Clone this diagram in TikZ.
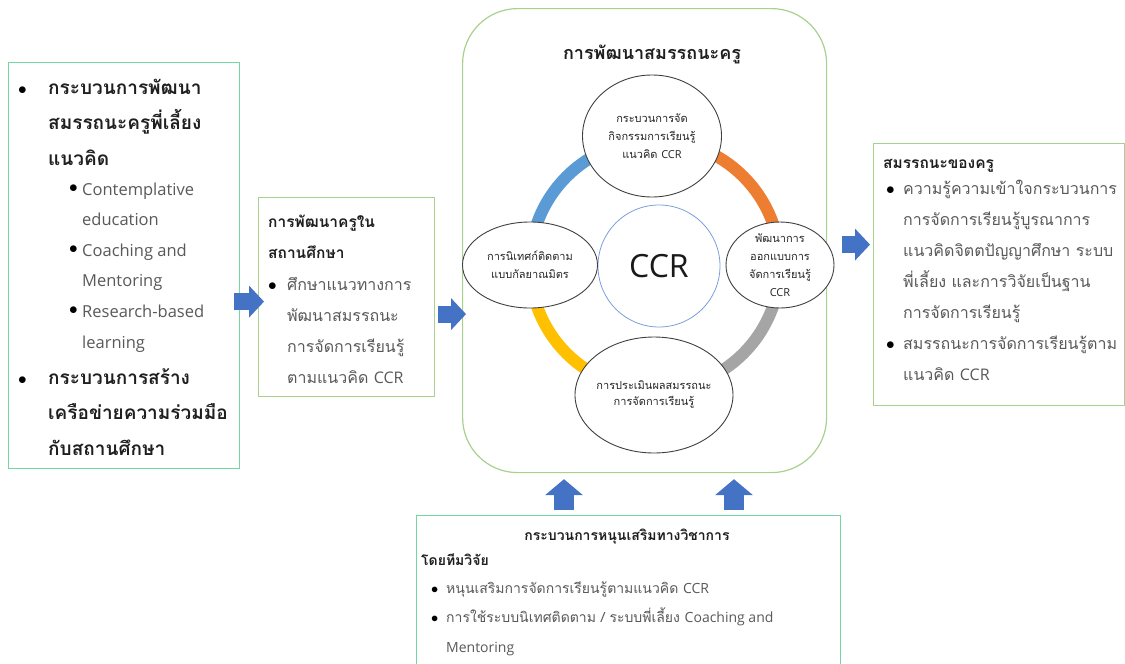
\documentclass[tikz,border=0pt]{standalone}
\usepackage{fontspec}
\setmainfont{Loma}[Script=Thai]
\newfontfamily\latin{Open Sans}
\usetikzlibrary{arrows.meta,positioning,shapes.geometric}
\definecolor{txtgray}{HTML}{595959}
\definecolor{txtdark}{HTML}{1F1F1F}
\definecolor{boxgreen}{HTML}{A9D18E}
\definecolor{mintgreen}{HTML}{74D6A0}
\definecolor{arrblue}{HTML}{4472C4}
\definecolor{ccrblue}{HTML}{7A9FDB}
\definecolor{ringblue}{HTML}{5B9BD5}
\definecolor{ringorange}{HTML}{ED7D31}
\definecolor{ringgray}{HTML}{A5A5A5}
\definecolor{ringyellow}{HTML}{FFC000}
\newcommand{\itembul}[1]{\makebox[#1][l]{\textcolor{black}{$\bullet$}}}
\newcommand{\subbul}[1]{\makebox[#1][l]{\raisebox{2.5pt}{\textcolor{black}{$\bullet$}}}}
\tikzset{
  panel/.style={rectangle, draw=boxgreen, line width=1.2pt, fill=white,
    inner sep=0pt, anchor=north west},
  panelmint/.style={panel, draw=mintgreen},
  bighead/.style={font=\bfseries\fontsize{19}{35.5}\selectfont, text=txtdark,
    inner sep=0pt, align=left, anchor=base west},
  subtxt/.style={font=\latin\fontsize{16.5}{30.6}\selectfont, text=txtgray,
    inner sep=0pt, align=left, anchor=base west},
  headtxt/.style={font=\bfseries\fontsize{15.5}{31}\selectfont, text=txtdark,
    inner sep=0pt, align=left, anchor=base west},
  bodytxt/.style={font=\fontsize{16}{31}\selectfont, text=txtgray,
    inner sep=0pt, align=left, anchor=base west},
  smallhead/.style={headtxt, font=\bfseries\fontsize{14}{29}\selectfont},
  smallbody/.style={bodytxt, font=\fontsize{14}{29.5}\selectfont},
  stage/.style={ellipse, draw=black!75, line width=0.9pt, fill=white, inner sep=0pt},
  stagetxt/.style={align=center, inner sep=0pt, text=black!85,
    font=\fontsize{11}{18}\selectfont},
  ringarc/.style={line width=12pt},
  fatR/.style={arrblue, line width=17pt,
    -{Triangle[length=15pt, width=32pt, line width=0pt]}},
  fatU/.style={arrblue, line width=20pt,
    -{Triangle[length=16pt, width=38pt, line width=0pt]}},
}

\begin{document}
\begin{tikzpicture}[x=1pt, y=-1pt]
\path[use as bounding box, clip] (0,0) rectangle (1125,664);

% ================= BOXES =================
\node[panelmint, minimum width=231pt, minimum height=406pt] (lbox) at (8,62) {};
\node[panel, minimum width=176pt, minimum height=199pt] (tbox) at (258,197) {};
\node[panel, rounded corners=55pt, minimum width=364pt, minimum height=464pt] (cbox) at (462,8) {};
\node[panel, minimum width=251pt, minimum height=262pt] (rbox) at (873,143) {};
\node[panelmint, minimum width=424pt, minimum height=170pt] (bbox) at (416,515) {};

% ================= LEFT BOX TEXT (anchored on last baseline) =================
\node[bighead] (l1) at (18,165)
  {\itembul{30pt}กระบวนการพัฒนา\\\hspace*{30pt}สมรรถนะครูพี่เลี้ยง\\\hspace*{30pt}แนวคิด};
\node[subtxt] (l2) at (69,348)
  {\subbul{13pt}Contemplative\\\hspace*{13pt}education\\
   \subbul{13pt}Coaching and\\\hspace*{13pt}Mentoring\\
   \subbul{13pt}Research-based\\\hspace*{13pt}learning};
\node[bighead] (l3) at (18,455)
  {\itembul{30pt}กระบวนการสร้าง\\\hspace*{30pt}เครือข่ายความร่วมมือ\\\hspace*{30pt}กับสถานศึกษา};

% ================= SCHOOL BOX TEXT =================
\node[headtxt] (t1) at (268,258) {การพัฒนาครูใน\\สถานศึกษา};
\node[bodytxt] (t2) at (268,383)
  {\itembul{19pt}ศึกษาแนวทางการ\\\hspace*{19pt}พัฒนาสมรรถนะ\\
   \hspace*{19pt}การจัดการเรียนรู้\\\hspace*{19pt}ตามแนวคิด {\latin CCR}};

% ================= CENTRE : RING =================
\node[font=\bfseries\fontsize{18}{20}\selectfont, text=txtdark] (ctitle) at (652,54)
  {การพัฒนาสมรรถนะครู};
\coordinate (ctr) at (655,265);
\foreach \a/\c in {90/ringblue, 0/ringorange, -90/ringgray, 180/ringyellow}
  \draw[ringarc, \c] (ctr) ++(\a:125pt) arc[start angle=\a, delta angle=90, radius=125pt];

\node[circle, draw=ccrblue, line width=0.8pt, minimum size=122pt, inner sep=0pt,
  font=\latin\fontsize{32}{36}\selectfont, text=black!90] (ccr) at (659,266) {CCR};

\node[stage, minimum width=139pt, minimum height=122pt,
  label={[stagetxt]center:กระบวนการจัด\\กิจกรรมการเรียนรู้\\แนวคิด {\latin CCR}}] (s1) at (652,136) {};
\node[stage, minimum width=108pt, minimum height=86pt,
  label={[stagetxt]center:พัฒนาการ\\ออกแบบการ\\จัดการเรียนรู้\\{\latin CCR}}] (s2) at (780,265) {};
\node[stage, minimum width=158pt, minimum height=116pt,
  label={[stagetxt, font=\fontsize{11}{16}\selectfont]center:การประเมินผลสมรรถนะ\\การจัดการเรียนรู้}] (s3) at (654,395) {};
\node[stage, minimum width=135pt, minimum height=86pt,
  label={[stagetxt]center:การนิเทศก์ติดตาม\\แบบกัลยาณมิตร}] (s4) at (530,265) {};

% ================= RIGHT BOX TEXT =================
\node[headtxt] (r1) at (883,168) {สมรรถนะของครู};
\node[bodytxt] (r2) at (886,380)
  {\itembul{17pt}ความรู้ความเข้าใจกระบวนการ\\\hspace*{17pt}การจัดการเรียนรู้บูรณาการ\\
   \hspace*{17pt}แนวคิดจิตตปัญญาศึกษา ระบบ\\\hspace*{17pt}พี่เลี้ยง และการวิจัยเป็นฐาน\\
   \hspace*{17pt}การจัดการเรียนรู้\\
   \itembul{17pt}สมรรถนะการจัดการเรียนรู้ตาม\\\hspace*{17pt}แนวคิด {\latin CCR}};

% ================= BOTTOM BOX TEXT =================
\node[smallhead, anchor=base] (b1) at (627,540) {กระบวนการหนุนเสริมทางวิชาการ};
\node[smallhead] (b2) at (421,565) {โดยทีมวิจัย};
\node[smallbody] (b3) at (431,652)
  {\itembul{15pt}หนุนเสริมการจัดการเรียนรู้ตามแนวคิด {\latin CCR}\\
   \itembul{15pt}การใช้ระบบนิเทศติดตาม / ระบบพี่เลี้ยง {\latin Coaching and}\\
   \hspace*{15pt}{\latin Mentoring}};

% ================= ARROWS =================
\coordinate (a1) at ([yshift=-36pt]lbox.east);
\coordinate (a2) at ([yshift=-17pt]tbox.east);
\coordinate (a3) at ([yshift=-4pt]cbox.east);
\coordinate (u1) at (564,515);
\coordinate (u2) at (734,515);
\draw[fatR, shorten <=-6pt, shorten >=-6pt] (a1) -- (a1 -| tbox.west);
\draw[fatR, shorten <=3pt, shorten >=-4pt] (a2) -- (a2 -| cbox.west);
\draw[fatR, shorten <=15pt, shorten >=3pt] (a3) -- (a3 -| rbox.west);
\draw[fatU, shorten <=5pt, shorten >=6pt] (u1) -- (u1 |- cbox.south);
\draw[fatU, shorten <=5pt, shorten >=6pt] (u2) -- (u2 |- cbox.south);

\end{tikzpicture}
\end{document}
